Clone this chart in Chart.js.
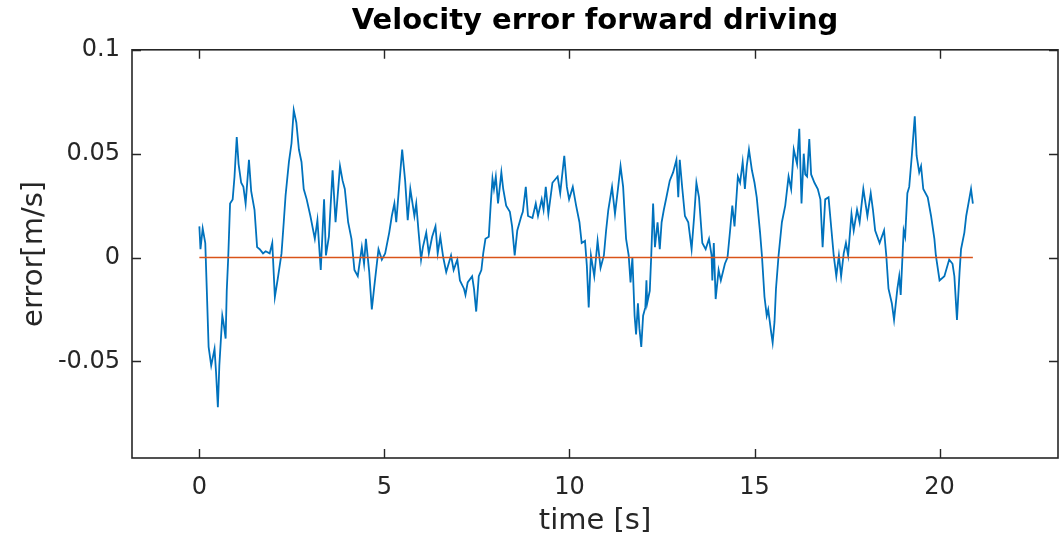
<!DOCTYPE html>
<html lang="en">
<head>
<meta charset="UTF-8">
<title>Velocity error forward driving</title>
<script src="https://cdn.jsdelivr.net/npm/chart.js"></script>
<style>
  html, body { margin: 0; padding: 0; background: #fff; }
  #wrap { width: 1064px; height: 542px; }
</style>
</head>
<body>
<div id="wrap"><canvas id="velChart" width="1064" height="542"></canvas></div>
<script>
// time [s] and velocity error [m/s]
const timeS = [
  0.00,0.03,0.09,0.16,0.20,0.25,0.32,0.41,0.45,0.50,0.54,0.62,0.65,0.71,0.74,0.78,0.83,0.90,0.95,1.01,
  1.06,1.13,1.19,1.25,1.34,1.40,1.49,1.56,1.63,1.72,1.79,1.90,1.97,2.04,2.12,2.22,2.28,2.33,2.42,2.49,
  2.55,2.62,2.69,
  2.76,2.82,2.90,3.00,3.12,3.19,3.28,3.37,3.42,3.50,3.60,3.68,3.80,3.87,3.93,4.02,4.11,4.19,4.28,4.39,
  4.45,4.50,4.59,4.66,4.72,4.84,4.93,5.02,5.13,5.20,5.27,5.32,5.41,5.48,5.56,5.63,5.70,5.81,5.86,5.92,
  5.99,6.04,6.13,6.20,6.29,6.38,6.44,6.51,6.59,6.67,6.80,6.87,6.97,7.04,7.15,7.19,
  7.25,7.37,7.42,7.48,7.55,7.62,7.67,7.73,7.82,7.87,7.92,7.96,8.01,8.07,8.16,8.21,8.29,8.39,8.45,8.52,
  8.59,8.70,8.74,8.82,8.88,9.00,9.09,9.15,9.25,9.30,9.36,9.43,9.54,9.68,9.75,9.86,9.93,9.99,10.09,10.18,
  10.27,10.33,10.42,10.47,10.52,10.58,10.67,10.76,10.84,10.93,10.99,11.05,11.15,11.23,11.31,11.38,11.45,11.53,11.60,
  11.65,11.70,11.76,11.80,11.85,11.89,11.94,11.99,12.05,12.08,12.10,12.17,12.21,12.26,12.31,12.38,12.44,12.49,12.55,12.62,
  12.71,12.80,12.89,12.94,12.98,13.05,13.12,13.21,13.30,13.37,13.43,13.50,13.59,13.68,13.77,13.84,13.86,13.90,13.95,14.03,
  14.09,14.20,14.27,14.34,14.40,14.46,14.55,14.61,14.68,14.74,14.79,14.85,14.93,15.00,15.06,15.15,15.20,15.27,15.33,15.37,
  15.45,15.49,15.54,15.58,15.65,15.74,15.83,15.92,15.99,16.06,16.15,
  16.21,16.27,16.33,16.37,16.42,16.48,16.53,16.62,16.71,16.78,16.84,16.91,17.00,17.08,17.14,17.21,17.28,17.34,17.41,17.47,
  17.53,17.62,17.68,17.77,17.84,17.94,18.05,18.14,18.20,18.26,18.38,18.50,18.56,18.62,18.71,18.77,18.86,18.91,18.95,19.03,
  19.07,19.13,19.18,19.25,19.33,19.38,19.45,19.50,19.56,19.68,19.77,19.86,19.90,20.00,20.13,20.26,20.35,20.40,20.47,20.54,
  20.58,20.67,20.72,20.81,20.85,20.90
];
const errorV = [
  0.015,0.004,0.014,0.007,-0.015,-0.043,-0.052,-0.044,-0.055,-0.072,-0.052,-0.028,-0.031,-0.039,-0.016,0.000,0.026,0.028,0.039,0.058,
  0.045,0.036,0.034,0.026,0.047,0.032,0.023,0.005,0.004,0.002,0.003,0.002,0.007,-0.019,-0.010,0.002,0.017,0.030,0.046,0.055,
  0.071,0.065,0.052,
  0.046,0.033,0.028,0.020,0.009,0.018,-0.006,0.028,0.001,0.010,0.042,0.017,0.044,0.037,0.033,0.017,0.009,-0.006,-0.009,0.005,
  -0.003,0.009,-0.007,-0.025,-0.015,0.004,-0.001,0.002,0.012,0.020,0.026,0.017,0.037,0.052,0.037,0.018,0.033,0.020,0.026,0.013,
  -0.001,0.005,0.012,0.002,0.010,0.015,0.002,0.010,0.000,-0.007,0.001,-0.006,-0.001,-0.011,-0.015,-0.018,
  -0.012,-0.009,-0.015,-0.026,-0.009,-0.006,0.002,0.009,0.010,0.025,0.038,0.033,0.039,0.026,0.041,0.033,0.025,0.022,0.015,0.001,
  0.013,0.020,0.022,0.034,0.020,0.019,0.026,0.020,0.028,0.023,0.034,0.021,0.036,0.039,0.031,0.049,0.034,0.028,0.034,0.025,
  0.017,0.007,0.008,-0.004,-0.024,0.001,-0.009,0.008,-0.005,0.001,0.013,0.023,0.034,0.021,0.033,0.044,0.034,0.009,0.001,
  -0.012,0.000,-0.028,-0.037,-0.022,-0.034,-0.043,-0.028,-0.024,-0.011,-0.022,-0.016,0.001,0.026,0.005,0.017,0.004,0.017,0.023,0.029,
  0.037,0.041,0.047,0.029,0.047,0.033,0.020,0.017,0.004,0.020,0.036,0.029,0.007,0.004,0.009,0.001,-0.011,0.007,-0.020,-0.006,
  -0.011,-0.003,0.000,0.013,0.025,0.015,0.039,0.036,0.046,0.033,0.044,0.052,0.042,0.036,0.029,0.012,0.001,-0.019,-0.028,-0.025,
  -0.036,-0.041,-0.031,-0.015,0.001,0.017,0.025,0.039,0.033,0.052,0.045,
  0.062,0.026,0.050,0.040,0.039,0.057,0.040,0.036,0.033,0.028,0.005,0.028,0.029,0.013,0.001,-0.009,0.001,-0.009,0.002,0.007,
  0.001,0.021,0.013,0.023,0.017,0.033,0.020,0.031,0.023,0.013,0.007,0.013,0.001,-0.015,-0.022,-0.030,-0.015,-0.009,-0.018,0.013,
  0.010,0.031,0.034,0.049,0.068,0.049,0.041,0.044,0.033,0.029,0.020,0.009,0.001,-0.011,-0.009,-0.001,-0.003,-0.009,-0.030,-0.007,
  0.004,0.012,0.020,0.029,0.033,0.026
];
const refValue = 0;
const xTicks = [0, 5, 10, 15, 20];
const yTicks = [-0.05, 0, 0.05, 0.1];

const FONT = "'DejaVu Sans', 'Liberation Sans', sans-serif";
const AXIS_COLOR = '#262626';

const errorPoints = timeS.map((t, i) => ({ x: t, y: errorV[i] }));
const refPoints = [
    { x: timeS[0], y: refValue },
    { x: timeS[timeS.length - 1], y: refValue }
];

// MATLAB style box with inward ticks on all four sides
const boxPlugin = {
    id: 'matlabBox',
    afterDatasetsDraw(chart) {
        const { ctx, chartArea: a, scales: { x, y } } = chart;
        const len = 9;
        ctx.save();
        ctx.strokeStyle = AXIS_COLOR;
        ctx.lineWidth = 1.4;
        ctx.beginPath();
        xTicks.forEach(v => {
            const px = Math.round(x.getPixelForValue(v)) + 0.5;
            ctx.moveTo(px, a.bottom); ctx.lineTo(px, a.bottom - len);
            ctx.moveTo(px, a.top); ctx.lineTo(px, a.top + len);
        });
        yTicks.forEach(v => {
            const py = Math.round(y.getPixelForValue(v)) + 0.5;
            ctx.moveTo(a.left, py); ctx.lineTo(a.left + len, py);
            ctx.moveTo(a.right, py); ctx.lineTo(a.right - len, py);
        });
        ctx.stroke();
        ctx.lineWidth = 1.6;
        ctx.strokeRect(a.left, a.top, a.right - a.left, a.bottom - a.top);
        ctx.restore();
    }
};

new Chart(document.getElementById('velChart'), {
    type: 'line',
    data: {
        datasets: [
            {
                data: refPoints,
                borderColor: '#D95319',
                borderWidth: 1.6,
                pointRadius: 0,
                order: 0
            },
            {
                data: errorPoints,
                borderColor: '#0072BD',
                borderWidth: 1.8,
                pointRadius: 0,
                tension: 0,
                order: 1
            }
        ]
    },
    options: {
        responsive: false,
        animation: false,
        devicePixelRatio: 1,
        layout: { padding: { left: 0, right: 6, top: 0, bottom: 0 } },
        plugins: {
            legend: { display: false },
            tooltip: { enabled: false },
            title: {
                display: true,
                text: 'Velocity error forward driving',
                fullSize: false,
                color: '#000',
                font: { family: FONT, size: 29, weight: 'bold' },
                padding: { top: 4, bottom: 11 }
            }
        },
        scales: {
            x: {
                type: 'linear',
                min: -1.82,
                max: 23.2,
                afterBuildTicks: s => { s.ticks = xTicks.map(v => ({ value: v })); },
                afterFit: s => { s.height = 84; },
                grid: { display: false, drawTicks: false },
                border: { display: false },
                ticks: {
                    color: AXIS_COLOR,
                    font: { family: FONT, size: 24 },
                    padding: 15,
                    maxRotation: 0,
                    callback: v => String(v)
                },
                title: {
                    display: true,
                    text: 'time [s]',
                    color: AXIS_COLOR,
                    font: { family: FONT, size: 29 },
                    padding: { top: 0, bottom: 3 }
                }
            },
            y: {
                type: 'linear',
                min: -0.0965,
                max: 0.1,
                afterBuildTicks: s => { s.ticks = yTicks.map(v => ({ value: v })); },
                afterFit: s => { s.width = 132; },
                grid: { display: false, drawTicks: false },
                border: { display: false },
                ticks: {
                    color: AXIS_COLOR,
                    font: { family: FONT, size: 24 },
                    padding: 12,
                    callback: v => String(v)
                },
                title: {
                    display: true,
                    text: 'error[m/s]',
                    color: AXIS_COLOR,
                    font: { family: FONT, size: 29 },
                    padding: { top: 17, bottom: 0 }
                }
            }
        }
    },
    plugins: [boxPlugin]
});
</script>
</body>
</html>
